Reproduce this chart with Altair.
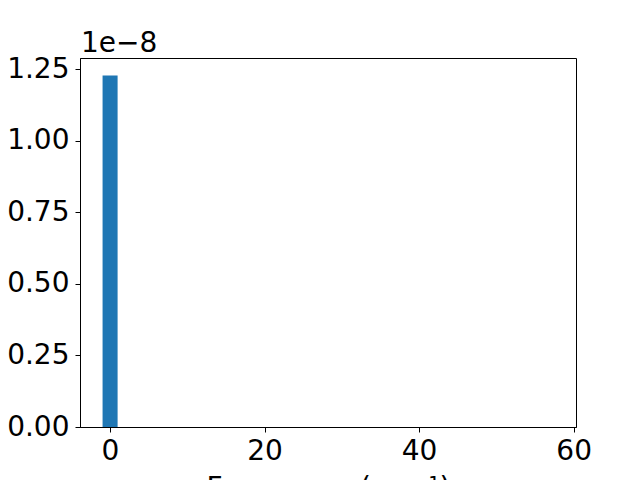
import altair as alt
import pandas as pd

# Histogram-like bars: 30 bins, only the first one is non-zero
bin_start = -0.96
bin_width = 1.945
counts = [1.2275e-8] + [0.0] * 29

x_ticks = [0, 20, 40, 60]
y_ticks = [0, 0.25e-8, 0.5e-8, 0.75e-8, 1.0e-8, 1.25e-8]

df = pd.DataFrame({
    "x0": [bin_start + i * bin_width for i in range(len(counts))],
    "x1": [bin_start + (i + 1) * bin_width for i in range(len(counts))],
    "y": counts,
})
df = df[df["y"] > 0]

FONT = "DejaVu Sans"
FS = 28

bars = alt.Chart(df).mark_bar(color="#1f77b4", strokeWidth=0).encode(
    x=alt.X("x0:Q",
            scale=alt.Scale(domain=[-3.88, 60.3], nice=False, zero=False),
            axis=alt.Axis(values=x_ticks, title="Frequency (cm⁻¹)", grid=False,
                          labelFontSize=FS, titleFontSize=FS, titleFontWeight="normal",
                          labelFont=FONT, titleFont=FONT, tickSize=5, labelPadding=5,
                          titlePadding=9, domainColor="black", tickColor="black",
                          labelColor="black", titleColor="black", labelFlush=False)),
    x2="x1:Q",
    y=alt.Y("y:Q",
            scale=alt.Scale(domain=[0, 1.289e-8], nice=False),
            axis=alt.Axis(values=y_ticks, title=None, grid=False,
                          labelExpr="format(datum.value*1e8, '.2f')",
                          labelFontSize=FS, labelFont=FONT, tickSize=5, labelPadding=6,
                          domainColor="black", tickColor="black", labelColor="black")),
    y2=alt.datum(0),
)

offset = alt.Chart(pd.DataFrame({"t": ["1e\u22128"]})).mark_text(
    align="left", baseline="alphabetic", fontSize=FS, font=FONT, color="black"
).encode(x=alt.value(1), y=alt.value(-6), text="t:N")

chart = alt.layer(bars, offset).properties(
    width=496, height=369,
    autosize=alt.AutoSizeParams(type="none"),
    padding={"left": 72, "top": 50, "right": 56, "bottom": 53},
).configure(background="white").configure_view(stroke="black", strokeWidth=1)

chart.save("out.html", embed_options={"renderer": "svg", "actions": False})
